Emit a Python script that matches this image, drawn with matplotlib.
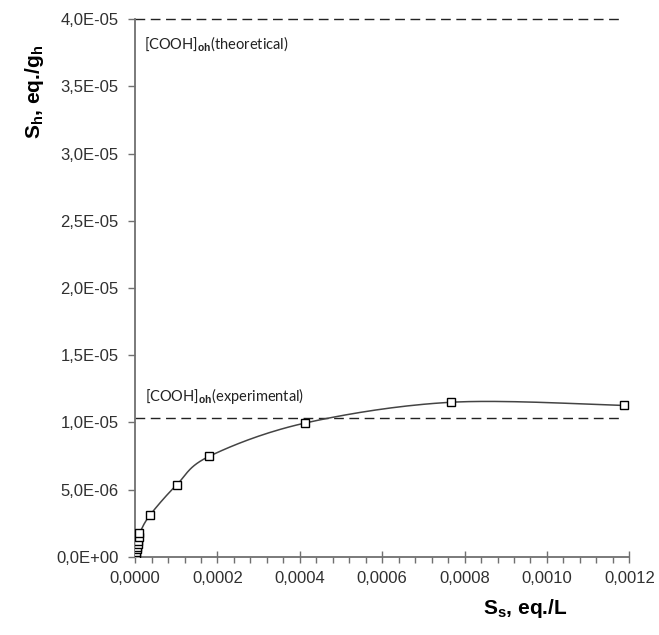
import numpy as np
import matplotlib
matplotlib.use("Agg")
import matplotlib.pyplot as plt
from matplotlib.ticker import MultipleLocator, FuncFormatter

# Equilibrium data: solution concentration S_s (eq./L) vs sorbed amount S_h (eq./g_h)
s_s = [0.0000003, 0.0000008, 0.0000015, 0.0000025, 0.0000038, 0.0000050,
       0.0000065, 0.0000080, 0.0000095, 0.0000105, 0.0000362, 0.000101,
       0.000180, 0.000412, 0.000767, 0.001188]
s_h = [0.03e-6, 0.10e-6, 0.22e-6, 0.38e-6, 0.55e-6, 0.75e-6,
       0.95e-6, 1.20e-6, 1.45e-6, 1.75e-6, 3.11e-6, 5.36e-6,
       7.48e-6, 9.95e-6, 11.50e-6, 11.26e-6]

# Reference levels of carboxyl groups
cooh_theoretical = 4.0e-05
cooh_experimental = 1.032e-05
ref_x_end = 0.00118

x_ticks_step = 0.0002
y_ticks_step = 5.0e-06


def smooth_curve(x, y, n=30):
    """Bezier smoothing through the points (Catmull-Rom style control points)."""
    x = np.asarray(x, float)
    y = np.asarray(y, float)
    px = np.concatenate([[x[0]], x, [x[-1]]])
    py = np.concatenate([[y[0]], y, [y[-1]]])
    out_x, out_y = [], []
    t = np.linspace(0, 1, n)
    for i in range(1, len(px) - 2):
        p0 = np.array([px[i], py[i]])
        p3 = np.array([px[i + 1], py[i + 1]])
        c1 = p0 + (np.array([px[i + 1], py[i + 1]]) - np.array([px[i - 1], py[i - 1]])) / 6
        c2 = p3 - (np.array([px[i + 2], py[i + 2]]) - np.array([px[i], py[i]])) / 6
        b = ((1 - t) ** 3)[:, None] * p0 + (3 * (1 - t) ** 2 * t)[:, None] * c1 \
            + (3 * (1 - t) * t ** 2)[:, None] * c2 + (t ** 3)[:, None] * p3
        out_x.extend(b[:, 0])
        out_y.extend(b[:, 1])
    return np.array(out_x), np.array(out_y)


plt.rcParams["font.family"] = ["Liberation Sans", "DejaVu Sans"]
plt.rcParams["mathtext.fontset"] = "custom"
plt.rcParams["mathtext.rm"] = "Liberation Sans"
plt.rcParams["mathtext.bf"] = "Liberation Sans:bold"

fig = plt.figure(figsize=(6.59, 6.35), dpi=100)
ax = fig.add_axes([0.205, 0.123, 0.750, 0.847])

axis_col = "#707070"
text_col = "#303030"

# reference levels
ax.plot([0, ref_x_end], [cooh_theoretical] * 2, color="#222222", lw=1.0,
        dashes=(7, 4), zorder=2, clip_on=False)
ax.plot([0, ref_x_end], [cooh_experimental] * 2, color="#222222", lw=1.0,
        dashes=(7, 4), zorder=2)

cx, cy = smooth_curve(s_s, s_h)
ax.plot(cx, cy, color="#444444", lw=1.1, zorder=3)
ax.plot(s_s, s_h, ls="none", marker="s", ms=6.3, mfc="white", mec="black",
        mew=1.0, zorder=4)

ann_font = ["Lato", "DejaVu Sans"]
ax.text(0.000022, 3.815e-05, r"[COOH]$_{\mathbf{oh}}$(theoretical)", fontsize=10.5,
        va="center", ha="left", color="#222222", family=ann_font)
ax.text(0.000025, 1.20e-05, r"[COOH]$_{\mathbf{oh}}$(experimental)", fontsize=10.5,
        va="center", ha="left", color="#222222", family=ann_font)

ax.set_xlim(0, 0.0012)
ax.set_ylim(0, 4.0e-05)
ax.xaxis.set_major_locator(MultipleLocator(x_ticks_step))
ax.xaxis.set_minor_locator(MultipleLocator(x_ticks_step / 5))
ax.yaxis.set_major_locator(MultipleLocator(y_ticks_step))
ax.xaxis.set_major_formatter(FuncFormatter(lambda v, p: f"{v:.4f}".replace(".", ",")))
ax.yaxis.set_major_formatter(FuncFormatter(lambda v, p: f"{v:.1E}".replace(".", ",")))

for side in ("top", "right"):
    ax.spines[side].set_visible(False)
for side in ("left", "bottom"):
    ax.spines[side].set_color(axis_col)
    ax.spines[side].set_linewidth(1.3)

ax.tick_params(axis="x", which="major", direction="inout", length=9, width=1.0,
               color=axis_col, labelsize=12, labelcolor=text_col, pad=6)
ax.tick_params(axis="x", which="minor", direction="out", length=4, width=1.0,
               color=axis_col)
ax.tick_params(axis="y", which="major", direction="out", length=5, width=1.0,
               color=axis_col, labelsize=12, labelcolor=text_col, pad=7)

ax.set_ylabel(r"$\mathbf{S_h}$, eq./$\mathbf{g_h}$", fontsize=15, fontweight="bold")
ax.yaxis.set_label_coords(-0.18, 0.865)
ax.set_xlabel(r"$\mathbf{S_s}$, eq./L", fontsize=15, fontweight="bold")
ax.xaxis.set_label_coords(0.79, -0.075)

fig.savefig("out.png", dpi=100)
